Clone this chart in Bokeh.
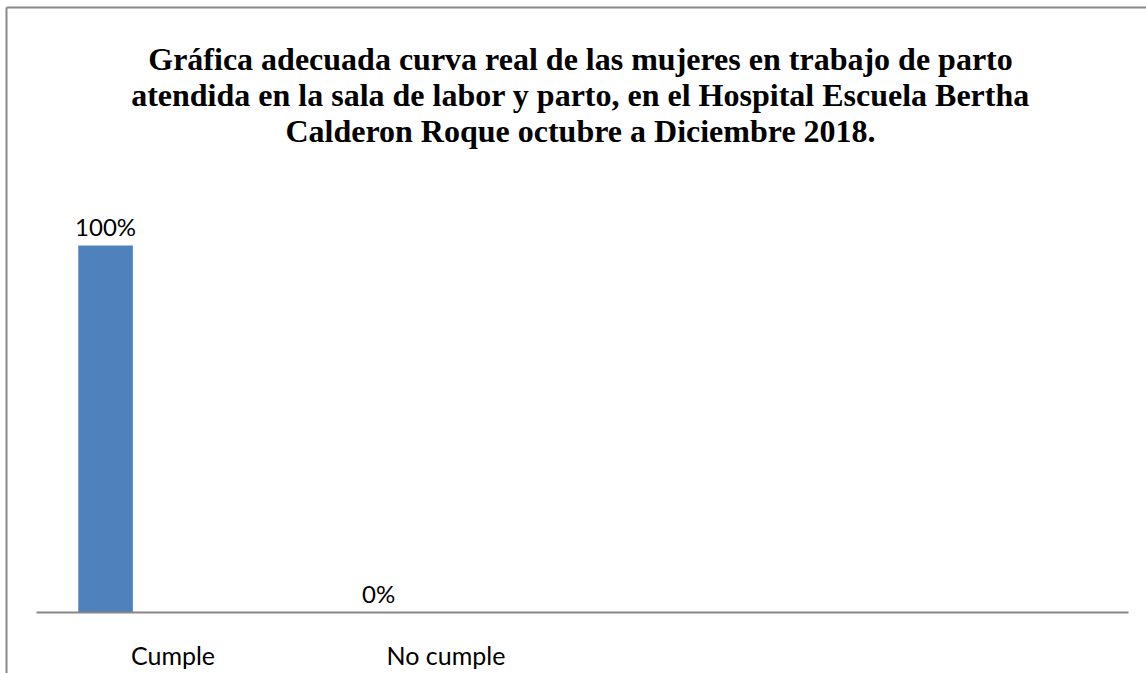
from bokeh.plotting import figure
from bokeh.models import Range1d, LinearAxis, FixedTicker, ColumnDataSource
from bokeh.core.properties import value
from bokeh.embed import file_html
from bokeh.resources import INLINE

# ---- data ----
categories = ["Cumple", "No cumple", "", ""]
values = [1.0, 0.0]
value_labels = ["100%", "0%"]
title_lines = [
    "Gráfica adecuada curva real de las mujeres en trabajo de parto",
    "atendida en la sala de labor y parto, en el Hospital Escuela Bertha",
    "Calderon Roque octubre a Diciembre 2018.",
]

# ---- layout (pixels) ----
W, H = 1146, 673
FRAME_L, FRAME_T = 6, 7
AXIS_X0, AXIS_X1 = 36, 1128           # category axis extent
AXIS_Y = 612                          # baseline of bars
PX_PER_VAL = 367                      # pixels for value 1.0
n_cat = len(categories)
px_per_cat = (AXIS_X1 - AXIS_X0) / n_cat
fw, fh = W - FRAME_L, H - FRAME_T
x0 = -(AXIS_X0 - FRAME_L) / px_per_cat
y0 = -(H - AXIS_Y) / PX_PER_VAL
y1 = y0 + fh / PX_PER_VAL

p = figure(width=W, height=H, output_backend="svg", toolbar_location=None,
           x_range=Range1d(x0, x0 + fw / px_per_cat),
           y_range=Range1d(y0, y1),
           x_axis_type=None, y_axis_type=None,
           min_border_left=FRAME_L, min_border_top=FRAME_T,
           min_border_right=0, min_border_bottom=0)
p.outline_line_color = None
p.background_fill_color = "white"
p.border_fill_color = "white"
p.grid.visible = False

# chart border (left and top) drawn as bare axis lines
for side in ("left", "above"):
    ax = LinearAxis(ticker=FixedTicker(ticks=[]), axis_line_color="#8a8a8a",
                    axis_line_width=2, major_tick_out=0, major_tick_in=0,
                    minor_tick_out=0, minor_tick_in=0, major_label_standoff=0,
                    major_label_text_font_size="0px")
    p.add_layout(ax, side)

# bars: first series offset within each category
bar_offset = 0.253
bar_width = 0.2
xs = [i + bar_offset for i in range(len(values))]
src = ColumnDataSource(dict(x=xs, top=values, lab=value_labels))
p.vbar(x="x", top="top", bottom=0, width=bar_width, source=src,
       fill_color="#4F81BD", line_color=None)

# category axis line
p.segment(x0=[0], y0=[0], x1=[n_cat], y1=[0], line_color="#868686", line_width=2)

# value labels
p.text(x="x", y="top", text="lab", source=src, text_align="center",
       text_baseline="alphabetic", y_offset=-19, text_font=value("Lato"),
       text_font_size="24px", text_color="black")

# category labels
cat_src = ColumnDataSource(dict(x=[i + 0.5 for i in range(n_cat)],
                                y=[0] * n_cat, t=categories))
p.text(x="x", y="y", text="t", source=cat_src, text_align="center",
       text_baseline="alphabetic", y_offset=42, text_font=value("Lato"),
       text_font_size="25px", text_color="black")

# title lines (centred, anchored at the top of the chart area, offset downwards)
nt = len(title_lines)
title_src = ColumnDataSource(dict(x=[n_cat / 2] * nt, y=[y1] * nt, t=title_lines,
                                  dy=[51 + 36 * k for k in range(nt)]))
p.text(x="x", y="y", text="t", y_offset="dy", x_offset=-2, source=title_src,
       text_align="center", text_baseline="alphabetic",
       text_font=value("Times New Roman, Liberation Serif, serif"),
       text_font_style="bold", text_font_size="32px", text_color="black")

open("out.html", "w").write(file_html(p, INLINE))
